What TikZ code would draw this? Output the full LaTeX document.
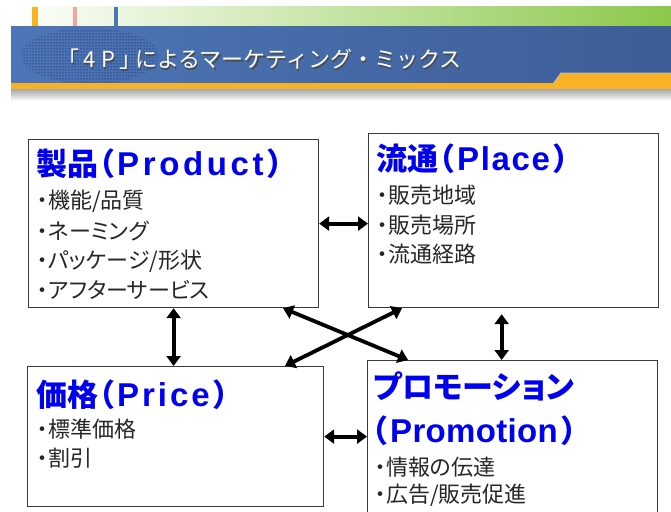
\documentclass[tikz,border=0pt]{standalone}
\usepackage{fontspec}
\usetikzlibrary{arrows.meta,patterns,calc}
\newfontfamily\jp[RawFeature=+palt]{Noto Sans CJK JP}
\newfontfamily\jpfw{Noto Sans CJK JP}
\newfontfamily\latA{Liberation Sans}[LetterSpace=11]
\newfontfamily\latB{Liberation Sans}[LetterSpace=9]
\newfontfamily\latC{Liberation Sans}[LetterSpace=5]
\newfontfamily\latD{Liberation Sans}[LetterSpace=1]
\definecolor{hdrblue}{HTML}{4D76B8}
\definecolor{hdrblue2}{HTML}{3D5D97}
\definecolor{hdrorange}{HTML}{F8B223}
\definecolor{hdrgreen}{HTML}{8CC84B}
\definecolor{hdrpink}{HTML}{F4A3A3}
\definecolor{ttlblue}{HTML}{0000F0}
\definecolor{boxline}{HTML}{3A3A3A}
\newcommand\jpttl{\jpfw\bfseries\fontsize{31}{31}\selectfont}
\newcommand\jpttlp{\jp\bfseries\fontsize{31}{31}\selectfont}
\newcommand\parword[2][\latB]{{\jpttlp （}\kern3.5pt{#1\bfseries\fontsize{33}{33}\selectfont #2}\kern4pt{\jpttlp ）}}
\tikzset{
  box/.style={draw=boxline, line width=1.2pt, fill=white, anchor=north west, inner sep=0pt},
  ttl/.style={font=\jpttl, text=ttlblue, anchor=west, inner sep=0pt},
  itm/.style={font=\jp\fontsize{22}{22}\selectfont, text=black!85, anchor=west, inner sep=0pt},
  hdrtxt/.style={font=\jpfw\fontsize{22}{22}\selectfont, anchor=west, inner sep=0pt},
  dbl/.style={{Triangle[length=10pt,width=14pt]}-{Triangle[length=10pt,width=14pt]}, line width=3.8pt, black},
}
\begin{document}
\begin{tikzpicture}[x=1pt,y=-1pt]
\useasboundingbox (0,0) rectangle (671,511);
\fill[white] (0,0) rectangle (671,511);
% header
\shade[left color=white, right color=hdrgreen] (11,7) rectangle (671,27);
\fill[hdrorange] (32,7) rectangle (38,26);
\fill[hdrpink] (73,7) rectangle (77,26);
\fill[hdrblue] (114,7) rectangle (118,26);
\shade[top color=gray!75, bottom color=white] (11,88) rectangle (671,101);
\shade[left color=hdrblue, right color=hdrblue2] (11,27) rectangle (671,85);
\begin{scope}
  \clip (11,27) rectangle (671,85);
  \fill[pattern=dots, pattern color=black!75!blue] (90,56) ellipse [x radius=69pt, y radius=28pt];
\end{scope}
\fill[hdrorange] (11,83) rectangle (671,89);
\fill[hdrorange] (553,84) -- (561,73) -- (671,73) -- (671,89) -- cycle;
\draw[white!60!hdrblue, line width=0.8pt] (553,84) -- (561,73) -- (671,73);
\node[hdrtxt, text=black!70] (hdrs) at (58.2,60.7) {「\kern4pt 4\kern6pt P\kern4pt 」\kern-6pt によるマーケティング・ミックス};
\node[hdrtxt, text=white] (hdr) at (57,59.5) {「\kern4pt 4\kern6pt P\kern4pt 」\kern-6pt によるマーケティング・ミックス};
% boxes
\node[box, minimum width=290pt, minimum height=168pt] (prod) at (28,139) {};
\node[box, minimum width=290pt, minimum height=174pt] (place) at (368,133) {};
\node[box, minimum width=296pt, minimum height=140pt] (price) at (27,366) {};
\node[box, minimum width=290pt, minimum height=160pt] (promo) at (367,360) {};
% texts
\node[ttl] (prodt) at (36,164) {製品\parword[\latA]{Product}};
\node[itm] (prod1) at (37,201) {・機能/品質};
\node[itm] (prod2) at (37,231) {・ネーミング};
\node[itm] (prod3) at (37,261) {・パッケージ/形状};
\node[itm] (prod4) at (37,290) {・アフターサービス};
\node[ttl] (placet) at (376,159) {流通\parword[\latC]{Place}};
\node[itm] (place1) at (377,195) {・販売地域};
\node[itm] (place2) at (377,225) {・販売場所};
\node[itm] (place3) at (377,254) {・流通経路};
\node[ttl] (pricet) at (36,395) {価格\parword[\latB]{Price}};
\node[itm] (price1) at (37,429) {・標準価格};
\node[itm] (price2) at (37,458) {・割引};
\node[ttl, font=\jpttlp] (promot) at (373,386) {プロモーション};
\node[ttl] (promot2) at (371,431) {\parword[\latD]{Promotion}};
\node[itm] (promo1) at (375,467) {・情報の伝達};
\node[itm] (promo2) at (375,495) {・広告/販売促進};
% connectors
\draw[dbl] (prod.east) -- (prod.east -| place.west);
\draw[dbl] (prod.south) -- (prod.south |- price.north);
\coordinate (rv) at ($(place.south west)!0.459!(place.south east)$);
\draw[dbl, shorten <=6pt] (rv) -- (rv |- promo.north);
\draw[dbl] ($(prod.south west)!0.876!(prod.south east)$) -- ($(promo.north west)!0.141!(promo.north east)$);
\draw[dbl] ($(place.south west)!0.117!(place.south east)$) -- ($(price.north west)!0.868!(price.north east)$);
\draw[dbl] (price.east) -- (price.east -| promo.west);
\end{tikzpicture}
\end{document}
